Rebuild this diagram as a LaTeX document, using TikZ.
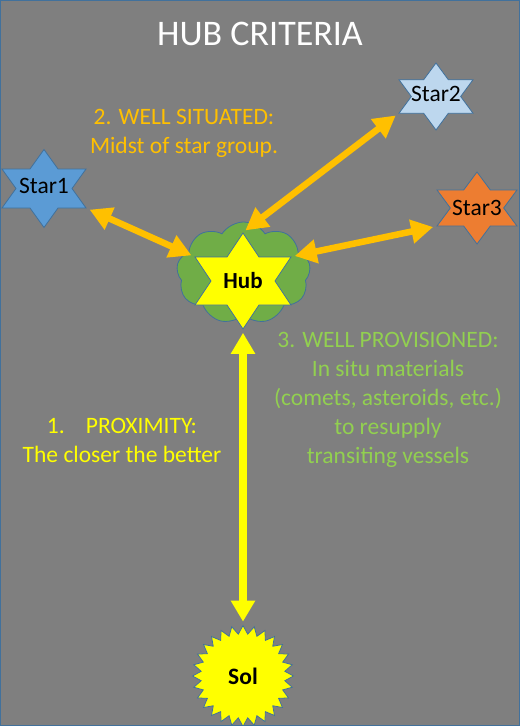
\documentclass[tikz,border=0pt]{standalone}
\usepackage{fontspec}
\setmainfont{Carlito}
\usetikzlibrary{
    positioning,
    arrows.meta,
    shapes.geometric,
    shapes.symbols
}
\definecolor{bggray}{RGB}{127,127,127}
\definecolor{edgeblue}{RGB}{65,113,156}
\definecolor{starblue}{RGB}{91,155,213}
\definecolor{starpale}{RGB}{189,215,238}
\definecolor{starorange}{RGB}{237,125,49}
\definecolor{hubyellow}{RGB}{255,255,0}
\definecolor{cloudgreen}{RGB}{112,173,71}
\definecolor{arrowgold}{RGB}{255,192,0}
\definecolor{textgreen}{RGB}{146,208,80}

\begin{document}
\begin{tikzpicture}[
    x=1pt, y=-1pt,
    every node/.style={font=\fontsize{23.5}{29}\selectfont},
    hexstar/.style={
        star,
        star points=6,
        star point ratio=1.732,
        draw=edgeblue,
        line width=0.8pt,
        inner sep=0pt,
        transform shape
    },
    starlabel/.style={text=black, inner sep=0pt},
    note/.style={align=center, inner sep=0pt},
    link/.style={<->, line width=6.5pt, draw=arrowgold,
        >={Triangle[length=22pt, width=23pt]},
        shorten <=3pt, shorten >=3pt},
    solar/.style={<->, line width=7.5pt, draw=hubyellow,
        >={Triangle[length=21pt, width=23pt]},
        shorten <=3pt, shorten >=3pt}
]

% ---------- Background ----------
\useasboundingbox (0,0) rectangle (520,726);
\draw[edgeblue, fill=bggray, line width=1pt] (0.5,0.5) rectangle (519.5,725.5);

\node[text=white, font=\fontsize{36}{43}\selectfont] (title) at (260,33.5) {HUB CRITERIA};

% ---------- Hub (cloud + star) ----------
\node[cloud, cloud puffs=9, cloud puff arc=115, aspect=1.3,
      minimum width=134pt, minimum height=102pt,
      draw=edgeblue, fill=cloudgreen, line width=0.8pt] (cloud) at (243.5,273) {};

\begin{scope}[shift={(243,281)}, xscale=1.155]
    \node[hexstar, fill=hubyellow, minimum size=96pt] (hub) {};
\end{scope}
\node[starlabel, font=\bfseries\fontsize{23}{28}\selectfont] (hubtext) at (hub) {Hub};

% ---------- Stars ----------
\begin{scope}[shift={(44,188.5)}, xscale=1.244]
    \node[hexstar, fill=starblue, minimum size=78pt] (star1) {};
\end{scope}
\node[starlabel, yshift=3pt] (star1text) at (star1) {Star1};

\begin{scope}[shift={(436,96.5)}, xscale=1.275]
    \node[hexstar, fill=starpale, minimum size=67pt] (star2) {};
\end{scope}
\node[starlabel, yshift=3pt] (star2text) at (star2) {Star2};

\begin{scope}[shift={(477,208)}, xscale=1.283]
    \node[hexstar, fill=starorange, minimum size=72pt] (star3) {};
\end{scope}
\node[starlabel] (star3text) at (star3) {Star3};

% ---------- Sol ----------
\node[star, star points=28, star point ratio=1.2, minimum size=101pt,
      inner sep=0pt, draw=edgeblue, fill=hubyellow, line width=0.8pt,
      font=\bfseries\fontsize{23.5}{28}\selectfont] (sol) at (243,676) {Sol};

% ---------- Arrows ----------
\draw[link] (star1.outer point 5) -- (hub.outer point 2);
\draw[link] (star2.outer point 3) -- (hub.outer point 1);
\draw[link] (star3.outer point 3) -- (hub.outer point 6);
\draw[solar] (hub.outer point 4) -- (sol.outer point 1);

% ---------- Criteria texts ----------
\node[note, text=arrowgold] (situated) at (184,133.5)
    {2. WELL SITUATED:\\Midst of star group.};
\node[note, text=textgreen] (provisioned) at (388,399.5)
    {3. WELL PROVISIONED:\\In situ materials\\(comets, asteroids, etc.)\\to resupply\\transiting vessels};
\node[note, text=hubyellow] (proximity) at (122,440.5)
    {1.\hspace{0.9em}PROXIMITY:\\The closer the better};

\end{tikzpicture}
\end{document}
